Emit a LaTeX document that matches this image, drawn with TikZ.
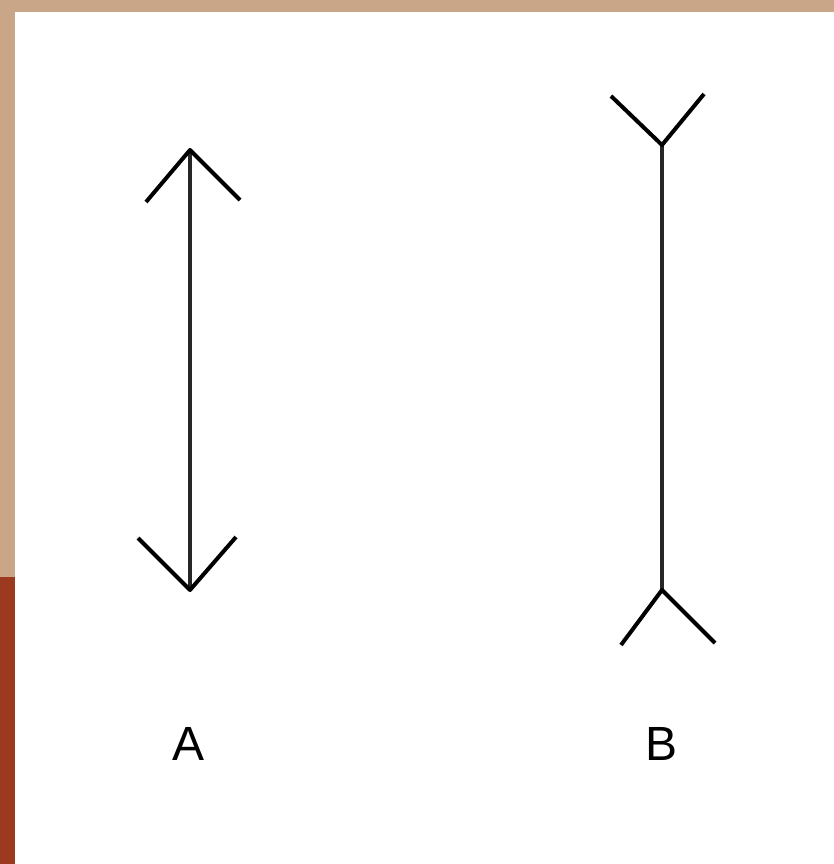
\documentclass[tikz,border=0pt]{standalone}
\usepackage{fontspec}
\setmainfont{Liberation Sans}
\definecolor{tanframe}{HTML}{C8A687}
\definecolor{rustframe}{HTML}{9C3A20}
\begin{document}
\begin{tikzpicture}[x=0.75pt,y=-0.75pt,
  stroke/.style={line width=3pt,black,line join=round},
  shaft/.style={line width=3pt,black!85},
  lbl/.style={font=\fontsize{36}{40}\selectfont,inner sep=0pt}]
\useasboundingbox (0,0) rectangle (834,864);
\fill[white] (0,0) rectangle (834,864);
% frame
\fill[tanframe] (0,0) rectangle (834,12);
\fill[tanframe] (0,0) rectangle (15,577);
\fill[rustframe] (0,577) rectangle (15,864);
% figure A
\coordinate (at) at (190,150);
\coordinate (ab) at (190,590);
\coordinate (atl) at (146,202);
\coordinate (atr) at (240,200);
\coordinate (abl) at (138,538);
\coordinate (abr) at (236,537);
\draw[shaft] (at) -- (ab);
\draw[stroke] (atl) -- (at) -- (atr);
\draw[stroke] (abl) -- (ab) -- (abr);
% figure B
\coordinate (bt) at (662,145);
\coordinate (bb) at (662,590);
\coordinate (btl) at (611,96);
\coordinate (btr) at (704,94);
\coordinate (bbl) at (621,645);
\coordinate (bbr) at (715,643);
\draw[shaft] (bt) -- (bb);
\draw[stroke] (btl) -- (bt) -- (btr);
\draw[stroke] (bbl) -- (bb) -- (bbr);
% labels
\node[lbl] (la) at (189,744) {A};
\node[lbl] (lb) at (662,744) {B};
\end{tikzpicture}
\end{document}
